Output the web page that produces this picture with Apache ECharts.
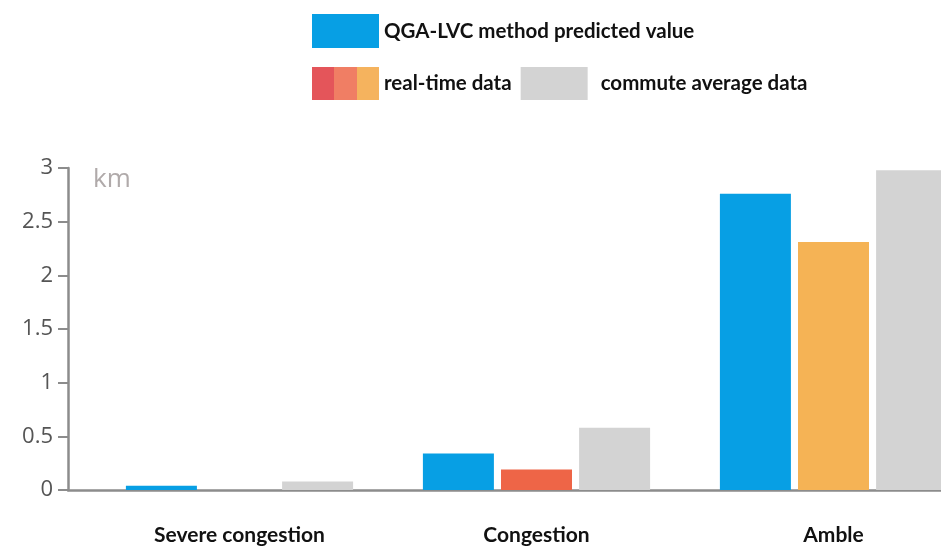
<!DOCTYPE html>
<html>
<head>
<meta charset="utf-8">
<script src="https://cdn.jsdelivr.net/npm/echarts@6.0.0/dist/echarts.min.js"></script>
<style>
  html, body { margin: 0; padding: 0; background: #fff; overflow: hidden; }
  /* the reference is cropped on the right, so the canvas runs past the window */
  #chart { width: 990px; height: 549px; }
</style>
</head>
<body>
<div id="chart"></div>
<script>
// data
const categories = ['Severe congestion', 'Congestion', 'Amble'];
const predicted = [0.04, 0.34, 2.76];
const realTime = [0, 0.19, 2.31];
const commuteAvg = [0.08, 0.58, 2.98];
const yTicks = [0, 0.5, 1, 1.5, 2, 2.5, 3];

const seriesNames = ['QGA-LVC method predicted value', 'real-time data', 'commute average data'];
const blue = '#079fe4';
const gray = '#d3d3d3';
const realTimeColors = ['#ee6547', '#ee6547', '#f5b355'];

const chart = echarts.init(document.getElementById('chart'));

// legend swatch for real-time data: three bands
const tricolor = new echarts.graphic.LinearGradient(0, 0, 1, 0, [
  { offset: 0, color: '#e4555a' },
  { offset: 0.333, color: '#e4555a' },
  { offset: 0.333, color: '#f07e64' },
  { offset: 0.667, color: '#f07e64' },
  { offset: 0.667, color: '#f5b35e' },
  { offset: 1, color: '#f5b35e' }
]);

const legendText = {
  fontFamily: 'Lato',
  fontWeight: 'bold',
  fontSize: 20.5,
  color: '#111'
};

const options = {
  animation: false,
  backgroundColor: '#fff',
  legend: [
    {
      data: [seriesNames[0]],
      left: 307,
      top: 9,
      icon: 'rect',
      itemWidth: 67,
      itemHeight: 34,
      textStyle: legendText,
      selectedMode: false
    },
    {
      data: [
        { name: seriesNames[1], itemStyle: { color: tricolor } },
        { name: seriesNames[2], textStyle: { padding: [0, 0, 0, 8] } }
      ],
      left: 307,
      top: 62,
      icon: 'rect',
      itemWidth: 67,
      itemHeight: 33,
      itemGap: 9,
      textStyle: legendText,
      selectedMode: false
    }
  ],
  grid: [
    // axes frame
    { left: 68, right: 0, top: 168, bottom: 59 },
    // bars
    { left: 91, right: 8, top: 168, bottom: 59 }
  ],
  xAxis: [
    {
      type: 'category',
      gridIndex: 0,
      data: categories,
      axisLine: { lineStyle: { color: '#8c8c8c', width: 2.5 } },
      axisTick: { show: false },
      axisLabel: { show: false }
    },
    {
      type: 'category',
      gridIndex: 1,
      data: categories,
      axisLine: { show: false },
      axisTick: { show: false },
      axisLabel: {
        margin: 35,
        fontFamily: 'Lato',
        fontWeight: 'bold',
        fontSize: 21,
        color: '#111'
      }
    }
  ],
  yAxis: [
    {
      type: 'value',
      gridIndex: 0,
      min: yTicks[0],
      max: yTicks[yTicks.length - 1],
      interval: 0.5,
      name: 'km',
      nameLocation: 'end',
      nameGap: -12,
      nameTextStyle: {
        fontFamily: 'Open Sans',
        fontSize: 26,
        color: '#b0aaaa',
        align: 'left',
        verticalAlign: 'middle',
        padding: [0, 0, 0, 25]
      },
      axisLine: { show: true, lineStyle: { color: '#8c8c8c', width: 2.5 } },
      axisTick: { show: true, length: 10, lineStyle: { color: '#8c8c8c', width: 2 } },
      splitLine: { show: false },
      axisLabel: {
        margin: 15,
        fontFamily: 'Open Sans',
        fontSize: 22,
        color: '#555'
      }
    },
    {
      type: 'value',
      gridIndex: 1,
      min: yTicks[0],
      max: yTicks[yTicks.length - 1],
      show: false
    }
  ],
  series: [
    {
      name: seriesNames[0],
      type: 'bar',
      xAxisIndex: 1,
      yAxisIndex: 1,
      barWidth: 71,
      barGap: '10%',
      itemStyle: { color: blue },
      data: predicted
    },
    {
      name: seriesNames[1],
      type: 'bar',
      xAxisIndex: 1,
      yAxisIndex: 1,
      barWidth: 71,
      barGap: '10%',
      itemStyle: { color: realTimeColors[1] },
      data: realTime.map((v, i) => ({ value: v, itemStyle: { color: realTimeColors[i] } }))
    },
    {
      name: seriesNames[2],
      type: 'bar',
      xAxisIndex: 1,
      yAxisIndex: 1,
      barWidth: 71,
      barGap: '10%',
      itemStyle: { color: gray },
      data: commuteAvg
    }
  ]
};

chart.setOption(options);
</script>
</body>
</html>
